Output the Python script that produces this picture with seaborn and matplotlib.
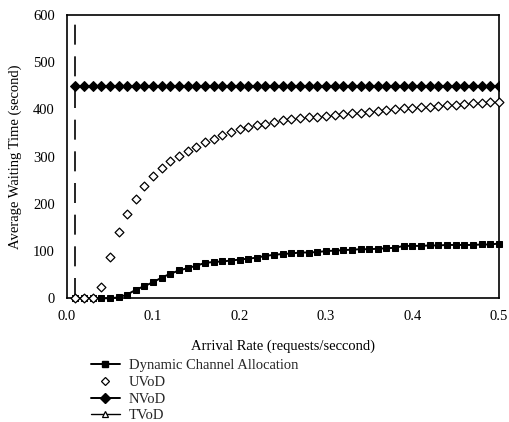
import numpy as np
import pandas as pd
import matplotlib
matplotlib.use("Agg")
import matplotlib.pyplot as plt
from matplotlib.lines import Line2D
import seaborn as sns

# ---- data ----
arrival_rate = [round(0.01 * i, 2) for i in range(1, 51)]

dca_wait = [0, 0, 0, 0, 0, 2, 8, 18, 26, 34,
            44, 52, 59, 64, 69, 75, 77, 78, 80, 82,
            84, 86, 90, 92, 94, 95, 97, 97, 98, 100,
            101, 102, 103, 104, 104, 105, 106, 107, 111, 111,
            111, 112, 112, 113, 113, 113, 113, 114, 114, 116]

uvod_wait = [0, 0, 0, 25, 87, 140, 178, 210, 238, 260,
             277, 290, 301, 311, 321, 330, 338, 345, 352, 358,
             362, 366, 370, 374, 377, 379, 381, 383, 384, 386,
             388, 390, 392, 393, 395, 397, 399, 400, 402, 404,
             405, 406, 408, 409, 410, 412, 413, 414, 415, 416]

nvod_wait = [450] * 50

tvod_rate = [0.01, 0.01]
tvod_wait = [0, 580]

series_names = ["Dynamic Channel Allocation", "UVoD", "NVoD", "TVoD"]
x_ticks = [0.0, 0.1, 0.2, 0.3, 0.4, 0.5]
x_tick_labels = ["0.0", "0.1", "0.2", "0.3", "0.4", "0.5"]
y_ticks = [0, 100, 200, 300, 400, 500, 600]

# ---- style ----
sns.set_theme(style="white")
plt.rcParams["font.family"] = ["Liberation Serif", "DejaVu Serif"]

fig = plt.figure(figsize=(5.09, 4.22), dpi=100)
ax = fig.add_axes([0.131, 0.2931, 0.8490, 0.6714])

df_dca = pd.DataFrame({"rate": arrival_rate, "wait": dca_wait})
df_uvod = pd.DataFrame({"rate": arrival_rate, "wait": uvod_wait})
df_nvod = pd.DataFrame({"rate": arrival_rate, "wait": nvod_wait})
df_tvod = pd.DataFrame({"rate": tvod_rate, "wait": tvod_wait})

sns.lineplot(data=df_tvod, x="rate", y="wait", ax=ax, color="black",
             linewidth=1.2, dashes=False, estimator=None, sort=False)
ax.lines[-1].set_dashes((12, 7))
sns.lineplot(data=df_nvod, x="rate", y="wait", ax=ax, color="black",
             linewidth=1.4, marker="D", markersize=4.8,
             markerfacecolor="black", markeredgecolor="black")
sns.lineplot(data=df_dca, x="rate", y="wait", ax=ax, color="black",
             linewidth=1.4, marker="s", markersize=4.4,
             markerfacecolor="black", markeredgecolor="black", clip_on=False)
sns.scatterplot(data=df_uvod, x="rate", y="wait", ax=ax, marker="D",
                s=20, facecolor="white", edgecolor="black", linewidth=0.9,
                zorder=5, clip_on=False)

ax.set_xlim(0, 0.5)
ax.set_ylim(0, 600)
ax.set_xticks(x_ticks)
ax.set_xticklabels(x_tick_labels)
ax.set_yticks(y_ticks)
ax.tick_params(axis="both", direction="inout", length=5, width=1,
               colors="black", labelsize=10.5, pad=6)
for s in ax.spines.values():
    s.set_color("black")
    s.set_linewidth(1.2)
    s.set_visible(True)

ax.set_xlabel("Arrival Rate (requests/seccond)", fontsize=10.5, labelpad=12,
              color="black")
ax.set_ylabel("Average Waiting Time (second)", fontsize=10.5, labelpad=8,
              color="black")

handles = [
    Line2D([], [], color="black", linewidth=1.4, marker="s", markersize=4.4),
    Line2D([], [], color="black", linestyle="none", marker="D", markersize=4.5,
           markerfacecolor="white", markeredgewidth=0.9),
    Line2D([], [], color="black", linewidth=1.4, marker="D", markersize=4.8),
    Line2D([], [], color="black", linewidth=1.0, marker="^", markersize=4.5,
           markerfacecolor="white", markeredgewidth=0.9),
]
fig.legend(handles, series_names, loc="upper left",
           bbox_to_anchor=(0.178, 0.150), frameon=False, fontsize=10.5,
           handlelength=2.0, handletextpad=0.6, labelspacing=0.25,
           borderaxespad=0, borderpad=0)

fig.savefig("out.png", dpi=100)
